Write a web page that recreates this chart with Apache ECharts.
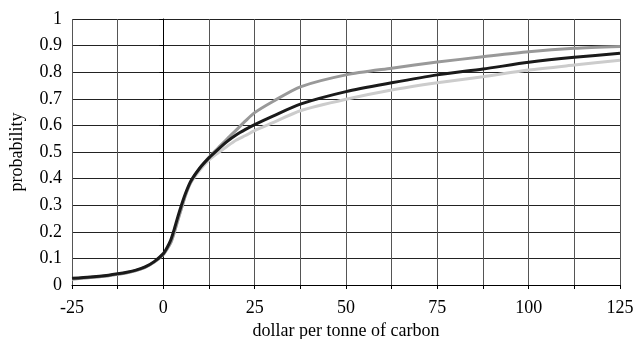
<!DOCTYPE html>
<html>
<head>
<meta charset="utf-8">
<script src="https://cdn.jsdelivr.net/npm/echarts@6/dist/echarts.min.js"></script>
<style>html,body{margin:0;padding:0;background:#fff;}#c{width:637px;height:339px;}</style>
</head>
<body>
<div id="c"></div>
<script>
var xValues = [-25, -20, -15, -12.5, -10, -7.5, -5, -2.5, 0, 1, 2, 3, 4, 5, 6, 7.5, 10, 12.5, 15, 17.5, 20, 22.5, 25, 30, 37.5, 50, 62.5, 75, 87.5, 100, 112.5, 125];
var blackSeries = [0.025,0.03,0.037,0.042,0.048,0.056,0.068,0.088,0.118,0.14,0.168,0.21,0.258,0.302,0.342,0.39,0.44,0.478,0.51,0.54,0.565,0.585,0.603,0.635,0.68,0.727,0.76,0.79,0.812,0.837,0.856,0.871];
var darkGraySeries = [0.023,0.028,0.035,0.04,0.046,0.054,0.066,0.086,0.115,0.135,0.158,0.198,0.245,0.29,0.335,0.386,0.44,0.48,0.515,0.55,0.583,0.617,0.648,0.69,0.745,0.79,0.815,0.838,0.858,0.877,0.89,0.897];
var lightGraySeries = [0.022,0.028,0.035,0.04,0.046,0.054,0.066,0.086,0.115,0.135,0.158,0.198,0.245,0.29,0.335,0.384,0.432,0.47,0.497,0.522,0.545,0.562,0.58,0.61,0.655,0.698,0.733,0.76,0.783,0.808,0.827,0.845];
var xTickLabels = [-25, 0, 25, 50, 75, 100, 125];

function pairs(ys){ return xValues.map(function(x,i){ return [x, ys[i]]; }); }
var font = 'Liberation Serif';
var chart = echarts.init(document.getElementById('c'), null, {renderer:'canvas'});
function mk(name, ys, color, w){
  return {name:name, type:'line', data:pairs(ys), smooth:0.25, showSymbol:false, symbol:'none',
    lineStyle:{color:color, width:w}, animation:false};
}
chart.setOption({
  animation:false,
  grid:{left:72, right:17, top:19, bottom:54, containLabel:false, outerBoundsMode:'none'},
  xAxis:{type:'value', min:-25, max:125, interval:12.5,
    name:'dollar per tonne of carbon', nameLocation:'middle', nameGap:36,
    nameTextStyle:{fontFamily:font, fontSize:18, color:'#000'},
    axisLine:{show:true, lineStyle:{color:'#000', width:1}},
    axisTick:{show:true, inside:false, length:4, lineStyle:{color:'#000'}},
    axisLabel:{margin:14, fontFamily:font, fontSize:18, color:'#000',
      formatter:function(v){ return xTickLabels.indexOf(v) >= 0 ? String(v) : ''; }},
    splitLine:{show:true, lineStyle:{color:'#555', width:1}}
  },
  yAxis:{type:'value', min:0, max:1, interval:0.1,
    name:'probability', nameLocation:'middle', nameGap:46, nameRotate:90,
    nameTextStyle:{fontFamily:font, fontSize:18, color:'#000'},
    axisLine:{show:true, lineStyle:{color:'#000', width:1}},
    axisTick:{show:true, length:4, lineStyle:{color:'#000'}},
    axisLabel:{margin:10, fontFamily:font, fontSize:18, color:'#000',
      formatter:function(v){ return String(Math.round(v*10)/10); }},
    splitLine:{show:true, lineStyle:{color:'#222', width:1}}
  },
  series:[
    mk('light', lightGraySeries, '#cccccc', 3),
    mk('dark', darkGraySeries, '#999999', 3),
    mk('black', blackSeries, '#1a1a1a', 3)
  ]
});
</script>
</body>
</html>
